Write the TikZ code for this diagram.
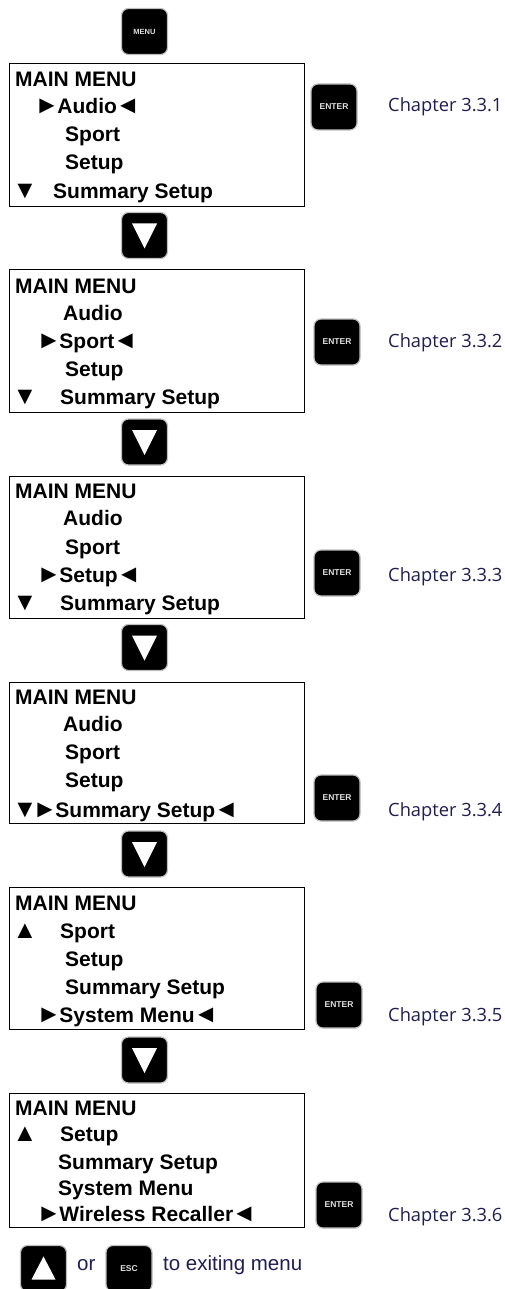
\documentclass[tikz,border=0pt]{standalone}
\usepackage{fontspec}
\setmainfont{Liberation Sans}
\newfontfamily\chapfont{Open Sans}
\newcommand{\mk}[1]{{\fontsize{25}{25}\selectfont #1}}
\newcommand{\sel}[1]{\mk{►}\kern-2pt #1\kern-1.5pt\mk{◄}}
\definecolor{chapblue}{RGB}{30,30,80}
\tikzset{
  lcdbox/.style={draw=black, line width=1.2pt, minimum width=295pt, anchor=north west, inner sep=0pt},
  key/.style={fill=black, draw=black!25, line width=1.2pt, rounded corners=7pt, minimum size=46pt, inner sep=0pt},
  keylabel/.style={text=black!12, font=\bfseries\fontsize{8.5}{8.5}\selectfont},
  row/.style={anchor=base west, inner sep=0pt, font=\bfseries\fontsize{21}{21}\selectfont},
  chap/.style={anchor=west, inner sep=0pt, text=chapblue, font=\chapfont\fontsize{18.3}{18.3}\selectfont},
  note/.style={anchor=west, inner sep=0pt, text=chapblue, font=\fontsize{20.5}{20.5}\selectfont},
}
\begin{document}
\begin{tikzpicture}[x=1pt, y=-1pt]
\useasboundingbox (0,0) rectangle (505,1289);
% menu key
\node[key, keylabel, font=\bfseries\fontsize{7.5}{7.5}\selectfont] (menu) at (144.5,31.5) {MENU};
% display boxes
\foreach \t/\h/\n in {63/143/1, 269/143/2, 476/142/3, 682/141/4, 887/142/5, 1093/134/6}
  \node[lcdbox, minimum height=\h] (box\n) at (9,\t) {};
% display rows
\foreach \nm/\x/\y/\txt in {
    t1/15/87/MAIN MENU, a1/34.5/114/{\sel{Audio}}, b1/65/142/Sport, c1/65/170/Setup, m1/12.5/199/{\mk{▼}}, d1/53/199/Summary Setup,
    t2/15/293/MAIN MENU, a2/63/320/Audio, b2/36.5/348/{\sel{Sport}}, c2/65/376/Setup, m2/12.5/404/{\mk{▼}}, d2/60/404/Summary Setup,
    t3/15/498/MAIN MENU, a3/63/525/Audio, b3/65/554/Sport, c3/36.5/582/{\sel{Setup}}, m3/12.5/610/{\mk{▼}}, d3/60/610/Summary Setup,
    t4/15/704/MAIN MENU, a4/63/731/Audio, b4/65/759/Sport, c4/65/787/Setup, m4/12.5/817/{\mk{▼}}, d4/32.5/817/{\sel{Summary Setup}},
    t5/15/910/MAIN MENU, m5/12.5/938/{\mk{▲}}, a5/60/938/Sport, b5/65/966/Setup, c5/65/994/Summary Setup, d5/36.5/1022/{\sel{System Menu}},
    t6/15/1115/MAIN MENU, m6/12.5/1141/{\mk{▲}}, a6/60/1141/Setup, b6/58/1169/Summary Setup, c6/58/1195/System Menu, d6/36.5/1221/{\sel{Wireless Recaller}}}
  \node[row] (\nm) at (\x,\y) {\txt};
% enter keys and chapters
\foreach \n/\x/\y/\cy in {1/334/107/107, 2/337/342/343, 3/337/573/577, 4/337/798/812, 5/339/1005/1017, 6/339/1205/1217}{
  \node[key, keylabel] (enter\n) at (\x,\y) {ENTER};
  \node[chap] (chap\n) at (388,\cy) {Chapter 3.3.\n};
}
% down keys
\foreach \n/\y in {1/235.5, 2/442, 3/647.5, 4/854, 5/1060}{
  \node[key] (down\n) at (144.5,\y) {};
  \fill[white] (down\n.center) ++(-12.5,-12) -- ++(25,0) -- ++(-12.5,25) -- cycle;
}
% exit line
\node[key] (up) at (43.5,1268.5) {};
\fill[white] (up.center) ++(-12,11) -- ++(24,0) -- ++(-12,-23) -- cycle;
\node[note] (or) at (77,1265) {or};
\node[key, keylabel] (esc) at (129,1268.5) {ESC};
\node[note] (exit) at (163,1265) {to exiting menu};
\end{tikzpicture}
\end{document}
